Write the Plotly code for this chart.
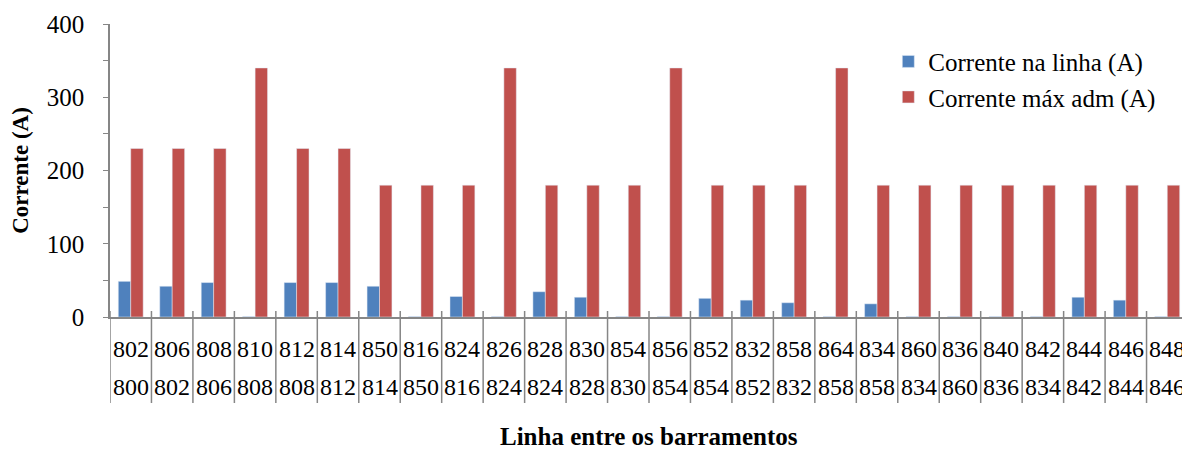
import plotly.graph_objects as go

top_labels = ["802", "806", "808", "810", "812", "814", "850", "816", "824", "826", "828", "830", "854",
              "856", "852", "832", "858", "864", "834", "860", "836", "840", "842", "844", "846", "848"]
bottom_labels = ["800", "802", "806", "808", "808", "812", "814", "850", "816", "824", "824", "828", "830",
                 "854", "854", "852", "832", "858", "858", "834", "860", "836", "834", "842", "844", "846"]
corrente_linha = [48.7, 42, 47, 0.6, 47, 47, 42, 0.6, 28, 0.6, 34.5, 27, 0.6,
                  0.6, 25.5, 23, 19.5, 0.6, 18, 0.6, 0.6, 0.6, 0.6, 27, 23, 0.6]
corrente_max = [230, 230, 230, 340, 230, 230, 180, 180, 180, 340, 180, 180, 180,
                340, 180, 180, 180, 340, 180, 180, 180, 180, 180, 180, 180, 180]

cats = [f"{t}-{b}" for t, b in zip(top_labels, bottom_labels)]
FONT = "Times New Roman, Liberation Serif, serif"

fig = go.Figure()
fig.add_trace(go.Bar(x=cats, y=corrente_linha, name="Corrente na linha (A)", marker_color="#4F81BD"))
fig.add_trace(go.Bar(x=cats, y=corrente_max, name="Corrente máx adm (A)", marker_color="#C0504D"))

plot_h = 293.0
annotations = []
for c, t, b in zip(cats, top_labels, bottom_labels):
    annotations.append(dict(x=c, y=-32 / plot_h, xref="x", yref="paper", text=t, showarrow=False,
                            font=dict(family=FONT, size=24, color="black"), yanchor="middle"))
    annotations.append(dict(x=c, y=-70 / plot_h, xref="x", yref="paper", text=b, showarrow=False,
                            font=dict(family=FONT, size=24, color="black"), yanchor="middle"))

shapes = []
for i in range(len(cats) + 1):
    shapes.append(dict(type="line", xref="x", yref="paper", x0=i - 0.5, x1=i - 0.5,
                       y0=6 / plot_h, y1=-86 / plot_h, line=dict(color="#868686", width=1.5)))

# page body has an 8px default margin, so the figure is offset by 8px
fig.update_layout(
    width=1182, height=442,
    margin=dict(l=102, r=2, t=16, b=133, autoexpand=False),
    plot_bgcolor="white", paper_bgcolor="white",
    font=dict(family=FONT, size=24, color="black"),
    barmode="group", bargap=0.4, bargroupgap=0,
    showlegend=True,
    legend=dict(x=0.722, y=0.95, xanchor="left", yanchor="top", font=dict(family=FONT, size=25),
                bgcolor="rgba(0,0,0,0)", tracegroupgap=4, itemwidth=30),
    annotations=annotations + [
        dict(text="<b>Linha entre os barramentos</b>", x=0.5, y=-120 / plot_h, xref="paper", yref="paper",
             showarrow=False, font=dict(family=FONT, size=25, color="black"), yanchor="middle"),
    ],
    shapes=shapes,
)
fig.update_xaxes(showticklabels=False, showline=True, linecolor="#868686", linewidth=1.5,
                 ticks="", showgrid=False, range=[-0.5, len(cats) - 0.5], automargin=False)
fig.update_yaxes(range=[0, 400], dtick=100, ticks="outside", ticklen=5, tickcolor="#868686",
                 showline=True, linecolor="#868686", linewidth=1.5, showgrid=False, zeroline=False,
                 ticklabelstandoff=14, tickfont=dict(family=FONT, size=25), automargin=False,
                 minor=dict(dtick=50, ticks="outside", ticklen=5, tickcolor="#868686"),
                 title=dict(text="<b>Corrente (A)</b>", font=dict(family=FONT, size=23), standoff=12))

fig.write_html("out.html")
